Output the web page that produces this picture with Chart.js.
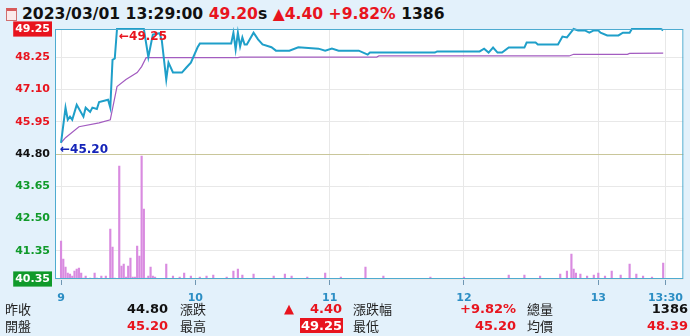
<!DOCTYPE html>
<html>
<head>
<meta charset="utf-8">
<script src="https://cdn.jsdelivr.net/npm/chart.js@4.4.0/dist/chart.umd.min.js"></script>
<style>
body { margin:0; background:#e3f1fb; width:690px; height:336px; overflow:hidden; position:relative; font-family:"DejaVu Sans", sans-serif; }
#chart { position:absolute; left:0; top:0; }
#head { position:absolute; left:22px; top:5px; font:bold 15.6px "DejaVu Sans"; white-space:nowrap; color:#111; }
#ico { position:absolute; left:6px; top:8px; width:9px; height:9px; border:1px solid #d07070; border-top:3px solid #d85a5a; background:#fbeaea; }
.r { color:#e8141e; }
.cell { position:absolute; white-space:nowrap; font-size:13px; line-height:16px; }
.lab { font-family:"Noto Sans CJK TC", sans-serif; color:#222; }
.num { font:bold 13px "DejaVu Sans"; text-align:right; }
.box { background:#e8141e; color:#fff; padding:0 1px; }
</style>
</head>
<body>
<div id="ico"></div>
<div id="head">2023/03/01 13:29:00 <span class="r">49.20</span>s <span class="r">▲4.40 +9.82%</span> 1386</div>
<canvas id="chart" width="690" height="336"></canvas>

<div class="cell lab" style="left:5px;top:301px">昨收</div>
<div class="cell num" style="right:522px;top:301px;color:#111">44.80</div>
<div class="cell lab" style="left:180px;top:301px">漲跌</div>
<div class="cell num r" style="left:284px;top:301px">▲</div>
<div class="cell num r" style="right:348px;top:301px">4.40</div>
<div class="cell lab" style="left:353px;top:301px">漲跌幅</div>
<div class="cell num r" style="right:174px;top:301px">+9.82%</div>
<div class="cell lab" style="left:527px;top:301px">總量</div>
<div class="cell num" style="right:2px;top:301px;color:#111">1386</div>

<div class="cell lab" style="left:5px;top:318px">開盤</div>
<div class="cell num r" style="right:522px;top:318px">45.20</div>
<div class="cell lab" style="left:180px;top:318px">最高</div>
<div class="cell num box" style="right:347px;top:318px">49.25</div>
<div class="cell lab" style="left:353px;top:318px">最低</div>
<div class="cell num r" style="right:174px;top:318px">45.20</div>
<div class="cell lab" style="left:527px;top:318px">均價</div>
<div class="cell num r" style="right:2px;top:318px">48.39</div>

<script>
// 成交價
var priceTimes = ['09:00','09:02','09:03','09:04','09:05','09:07','09:10','09:11','09:13','09:14','09:16','09:17','09:21','09:22','09:23','09:24','09:25','09:37','09:39','09:41','09:44','09:45','09:47','09:48','09:50','09:54','09:56','09:58','10:01','10:02','10:16','10:17','10:18','10:19','10:20','10:21','10:22','10:23','10:26','10:28','10:30','10:34','10:36','10:42','10:46','10:55','10:58','11:01','11:04','11:13','11:17','11:18','11:47','11:48','12:07','12:09','12:11','12:13','12:15','12:17','12:20','12:27','12:28','12:32','12:33','12:42','12:44','12:46','12:49','12:51','12:54','12:56','12:58','13:00','13:01','13:04','13:09','13:11','13:14','13:15','13:28','13:29'];
var priceValues = [45.20,46.45,46.02,46.13,46.02,46.55,46.13,46.45,46.30,46.45,46.40,46.65,46.73,46.45,48.15,48.20,49.25,49.25,48.25,49.05,49.10,48.85,47.45,48.05,47.70,47.70,47.88,48.05,48.60,48.73,48.73,49.12,48.52,49.12,48.63,48.95,48.70,48.70,49.12,48.88,48.70,48.60,48.48,48.48,48.60,48.55,48.48,48.55,48.48,48.48,48.34,48.41,48.41,48.45,48.45,48.55,48.41,48.59,48.41,48.41,48.59,48.59,48.77,48.77,48.70,48.70,48.98,48.95,49.25,49.20,49.20,49.12,49.20,49.20,49.12,49.02,49.02,49.12,49.12,49.25,49.25,49.20];

// 均價
var avgTimes = ['09:00','09:02','09:08','09:17','09:22','09:25','09:29','09:34','09:36','09:38','10:19','10:20','11:21','11:22','12:47','12:49','13:13','13:14','13:29'];
var avgValues = [45.20,45.38,45.77,45.91,46.02,47.20,47.45,47.70,47.91,48.23,48.23,48.25,48.25,48.29,48.29,48.35,48.35,48.38,48.39];

// 成交量 (張)
var volTimes = ['09:00','09:01','09:02','09:03','09:04','09:05','09:06','09:07','09:08','09:09','09:10','09:11','09:13','09:15','09:16','09:18','09:20','09:22','09:23','09:24','09:26','09:27','09:28','09:29','09:30','09:31','09:32','09:33','09:34','09:35','09:36','09:37','09:38','09:39','09:40','09:41','09:42','09:47','09:50','09:53','09:55','09:58','10:02','10:05','10:08','10:14','10:17','10:19','10:21','10:26','10:35','10:40','10:43','10:50','10:58','11:05','11:16','11:24','11:45','12:00','12:20','12:27','12:34','12:43','12:46','12:48','12:49','12:50','12:52','12:55','12:58','13:00','13:03','13:06','13:10','13:14','13:17','13:20','13:24','13:29'];
var volValues = [38,20,12,6,5,3,8,10,11,6,1,3,1,6,1,3,3,50,32,1,113,13,15,2,13,21,2,2,33,23,123,70,1,3,12,3,2,15,3,2,6,3,2,3,4,2,8,10,4,5,3,5,3,2,6,2,12,3,2,2,4,4,3,5,8,25,10,6,5,3,4,6,3,8,4,15,5,3,2,16];

var yTicks = [40.35, 41.35, 42.50, 43.65, 44.80, 45.95, 47.10, 48.25, 49.25];
var xTickMinutes = [0, 60, 120, 180, 240, 270];
var xTickLabels = ['9', '10', '11', '12', '13', '13:30'];
var prevClose = 44.80;

function toMin(t) {
    var p = t.split(':');
    return (parseInt(p[0], 10) - 9) * 60 + parseInt(p[1], 10);
}
function pts(times, vals) {
    return times.map(function(t, i) { return { x: toMin(t), y: vals[i] }; });
}

var RED = '#e8141e', GREEN = '#109a2a';

// 白底、外框與最高/最低標示
var framePlugin = {
    id: 'frame',
    beforeDraw: function(chart) {
        var a = chart.chartArea, c = chart.ctx;
        c.save();
        c.fillStyle = '#ffffff';
        c.fillRect(a.left, a.top, a.right - a.left, a.bottom - a.top);
        c.restore();
    },
    afterDraw: function(chart) {
        var a = chart.chartArea, c = chart.ctx;
        var xs = chart.scales.x, ys = chart.scales.y;
        c.save();
        c.strokeStyle = '#4eabd0';
        c.lineWidth = 1;
        c.strokeRect(a.left + 0.5, a.top + 0.5, a.right - a.left - 1, a.bottom - a.top - 1);

        var hi = Math.max.apply(null, priceValues), lo = Math.min.apply(null, priceValues);
        var hiT = priceTimes[priceValues.indexOf(hi)], loT = priceTimes[priceValues.indexOf(lo)];
        c.font = 'bold 12px "DejaVu Sans"';
        c.textBaseline = 'middle';
        c.fillStyle = RED;
        c.fillText('\u2190' + hi.toFixed(2), xs.getPixelForValue(toMin(hiT)) + 2, ys.getPixelForValue(hi) + 8);
        c.fillStyle = '#1524b8';
        c.fillText('\u2190' + lo.toFixed(2), xs.getPixelForValue(toMin(loT)) - 1, ys.getPixelForValue(lo) + 7);
        c.restore();
    }
};

new Chart(document.getElementById('chart').getContext('2d'), {
    type: 'line',
    data: {
        datasets: [{
            label: '成交價',
            data: pts(priceTimes, priceValues),
            borderColor: '#1f9fc9',
            borderWidth: 2,
            pointRadius: 0,
            clip: 3,
            yAxisID: 'y',
            order: 1
        }, {
            label: '均價',
            data: pts(avgTimes, avgValues),
            borderColor: '#a35cc0',
            borderWidth: 1.2,
            pointRadius: 0,
            yAxisID: 'y',
            order: 2
        }, {
            type: 'bar',
            label: '成交量',
            data: pts(volTimes, volValues),
            backgroundColor: '#d98be0',
            barThickness: 1.5,
            yAxisID: 'yv',
            order: 3
        }]
    },
    options: {
        responsive: false,
        animation: false,
        devicePixelRatio: 1,
        layout: { padding: { left: 0, top: 29, right: 2, bottom: 35 } },
        plugins: { legend: { display: false }, tooltip: { enabled: false } },
        scales: {
            x: {
                type: 'linear',
                offset: false,
                min: -2.7,
                max: 278,
                afterBuildTicks: function(s) { s.ticks = xTickMinutes.map(function(v) { return { value: v }; }); },
                afterFit: function(s) { s.height = 22; },
                ticks: {
                    autoSkip: false,
                    maxRotation: 0,
                    padding: 7,
                    color: '#2c8ec4',
                    font: { family: 'DejaVu Sans', size: 11, weight: 'bold' },
                    callback: function(v) { return xTickLabels[xTickMinutes.indexOf(v)]; }
                },
                grid: { offset: false, color: '#e8e8e8', tickColor: '#6f97b3', tickLength: 6 },
                border: { display: false }
            },
            y: {
                min: 40.35,
                max: 49.25,
                afterBuildTicks: function(s) { s.ticks = yTicks.map(function(v) { return { value: v }; }); },
                afterFit: function(s) { s.width = 55; },
                ticks: {
                    padding: 5,
                    font: { family: 'DejaVu Sans', size: 11, weight: 'bold' },
                    callback: function(v) { return v.toFixed(2); },
                    color: function(ctx) {
                        var v = ctx.tick.value;
                        if (v === 49.25 || v === 40.35) return '#ffffff';
                        if (v > prevClose) return RED;
                        if (v < prevClose) return GREEN;
                        return '#111111';
                    },
                    showLabelBackdrop: true,
                    backdropPadding: { left: 2, right: 2, top: 1, bottom: 1 },
                    backdropColor: function(ctx) {
                        var v = ctx.tick.value;
                        if (v === 49.25) return RED;
                        if (v === 40.35) return GREEN;
                        return 'rgba(0,0,0,0)';
                    }
                },
                grid: {
                    drawTicks: false,
                    color: function(ctx) { return ctx.tick && ctx.tick.value === prevClose ? '#c9c69a' : '#e8e8e8'; }
                },
                border: { display: false }
            },
            yv: {
                display: false,
                min: 0,
                max: 250
            }
        }
    },
    plugins: [framePlugin]
});
</script>
</body>
</html>
